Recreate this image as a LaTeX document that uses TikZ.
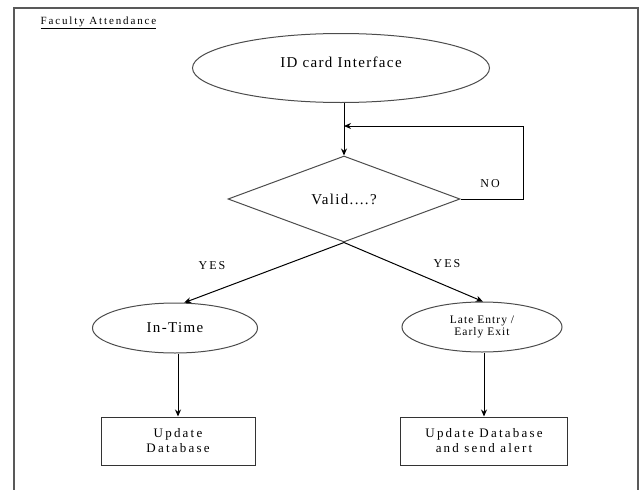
\documentclass[tikz,border=0pt]{standalone}
\usepackage{fontspec}
\setmainfont{Liberation Serif}
\newfontfamily\spaced[LetterSpace=9]{Liberation Serif}
\newfontfamily\spacedmore[LetterSpace=17]{Liberation Serif}
\usetikzlibrary{shapes.geometric,arrows.meta}
\tikzset{
  oval/.style={ellipse,draw=black!70,line width=1pt,inner sep=0pt,align=center},
  box/.style={rectangle,draw=black!80,line width=1pt,inner sep=0pt,align=center,
    font=\spacedmore\fontsize{13}{15}\selectfont},
  lbl/.style={font=\spacedmore\fontsize{12}{13}\selectfont},
  flow/.style={-{Stealth[length=7pt,width=6pt]},line width=1pt},
}
\begin{document}
\begin{tikzpicture}[x=1pt,y=-1pt]
      \useasboundingbox (0,0) rectangle (643,490);
      \draw[black!65,line width=1.4pt](14,500)--(14,8)--(638,8)--(638,500);%frame
      \node[anchor=west,font=\spacedmore\fontsize{11}{12}\selectfont](title) at (37,23){\underline{Faculty Attendance}};
      \node[oval,minimum width=297pt,minimum height=69pt,font=\spaced\fontsize{15}{16}\selectfont,
        text height=10pt,text depth=11.5pt](idcard) at (341,68){ID card Interface};
      \node[diamond,draw=black!70,line width=1pt,inner sep=0pt,aspect=2.7,minimum width=232pt,
        minimum height=86pt,font=\spaced\fontsize{15}{16}\selectfont](valid) at (344,199){Valid....?};
      \node[oval,minimum width=165pt,minimum height=50pt,font=\spaced\fontsize{15}{16}\selectfont](intime) at (175,328){In-Time};
      \node[oval,minimum width=160pt,minimum height=50pt,font=\spaced\fontsize{11.5}{11.5}\selectfont](late) at (482,327){Late Entry /\\Early Exit};
      \node[box,minimum width=154pt,minimum height=48pt](upd) at (178,441){Update\\Database};
      \node[box,minimum width=167pt,minimum height=48pt](alert) at (484,441){Update Database\\and send alert};
      \coordinate (back) at (344,126);%loop joins here
      \draw[flow](idcard.south -| valid.north)--(valid.north);
      \draw[flow](valid.east)--++(63,0)|-(back);
      \draw[flow](valid.south)--(intime.70);
      \draw[flow](valid.south)--(late.88);
      \draw[flow](intime.south -| upd.north)--(upd.north);
      \draw[flow](late.south -| alert.north)--(alert.north);
      \node[lbl](no) at (490,184){NO};
      \node[lbl](yesl) at (212,266){YES};
      \node[lbl](yesr) at (447,264){YES};
\end{tikzpicture}
\end{document}
